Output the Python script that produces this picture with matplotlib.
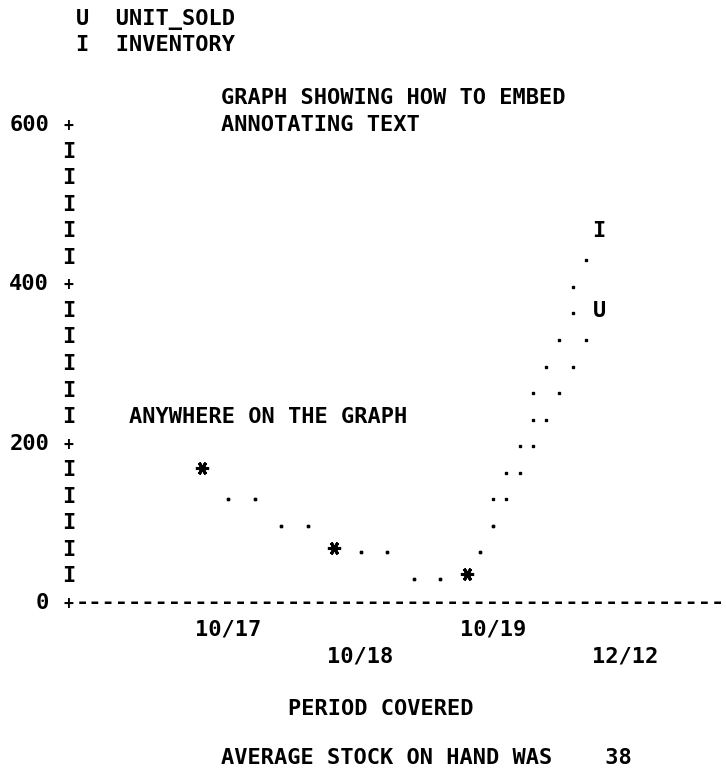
import numpy as np
import matplotlib
matplotlib.use('Agg')
import matplotlib.pyplot as plt
from matplotlib.transforms import offset_copy

dates = ['10/17', '10/18', '10/19', '12/12']
unit_sold = [167, 67, 33, 367]
inventory = [167, 67, 33, 467]
y_ticks = [0, 200, 400, 600]
avg_stock = 38

series = [('U', 'UNIT_SOLD', unit_sold), ('I', 'INVENTORY', inventory)]

FONT = 'DejaVu Sans Mono'
FS = 15.85
COLS = 10        # print columns between two dates
ROW = 600 / 18   # value of one print line


def qrow(v):
	return int(np.floor(v / ROW + 0.5))


fig = plt.figure(figsize=(7.26, 7.69), dpi=100)
ax = fig.add_axes([69 / 726, 168 / 769, 657 / 726, 478 / 769])
ax.set_xlim(-1, -1 + 657 / 132.5)
ax.set_ylim(0, 600)
ax.axis('off')

base = offset_copy(ax.transData, fig=fig, y=-8, units='dots')
dotbase = offset_copy(ax.transData, fig=fig, y=-4.5, units='dots')


def put(col, row, s, size=FS, tr=base):
	# s starts in print column col, on print line row
	x = (col + (len(s) - 1) / 2) / COLS
	ax.text(x, row * ROW, s, transform=tr, ha='center', va='baseline',
		family=FONT, fontsize=size, fontweight='semibold', color='black')


###############################################################################
# legend, title, notes
###############################################################################

put(-9, 22, series[0][0] + '  ' + series[0][1])
put(-9, 21, series[1][0] + '  ' + series[1][1])
put(2, 19, 'GRAPH SHOWING HOW TO EMBED')
put(2, 18, 'ANNOTATING TEXT')
put(-5, 7, 'ANYWHERE ON THE GRAPH')

###############################################################################
# axes made of characters
###############################################################################

tick_rows = {qrow(t): t for t in y_ticks}
for r in range(0, 19):
	if r in tick_rows:
		lab = str(tick_rows[r])
		put(-11 - len(lab), r, lab)
		put(-10, r, '+', size=12)
	else:
		put(-10, r, 'I')
put(-9, 0, '-' * 49)

for i, d in enumerate(dates):
	put(i * COLS, -1 - (i % 2), d)

put(7, -4, 'PERIOD COVERED')
# last line sits on the page edge, lift it a little
put(2, -6, 'AVERAGE STOCK ON HAND WAS    %d' % avg_stock,
	tr=offset_copy(ax.transData, fig=fig, y=-4, units='dots'))

###############################################################################
# joins drawn as print dots, then the points
###############################################################################

for sym, name, vals in series:
	xs, ys = [], []
	for i in range(len(vals) - 1):
		r0, r1 = qrow(vals[i]), qrow(vals[i + 1])
		n = max(5, abs(r1 - r0))
		for k in range(1, n):
			c = np.floor(i * COLS + COLS * k / n + 0.5)
			r = np.floor(r0 + (r1 - r0) * k / n + 0.5)
			xs.append(c / COLS)
			ys.append(r * ROW)
	ax.plot(xs, ys, linestyle='none', marker='s', markersize=1.9,
		color='black', transform=dotbase, clip_on=False)

for i in range(len(dates)):
	ru, ri = qrow(unit_sold[i]), qrow(inventory[i])
	if ru == ri:
		ax.plot([i], [ru * ROW], linestyle='none', marker=(6, 2, 30),
			markersize=9.5, markeredgewidth=2.2, color='black', clip_on=False)
	else:
		put(i * COLS, ru, 'U')
		put(i * COLS, ri, 'I')

fig.savefig('out.png', dpi=100, facecolor='white')
